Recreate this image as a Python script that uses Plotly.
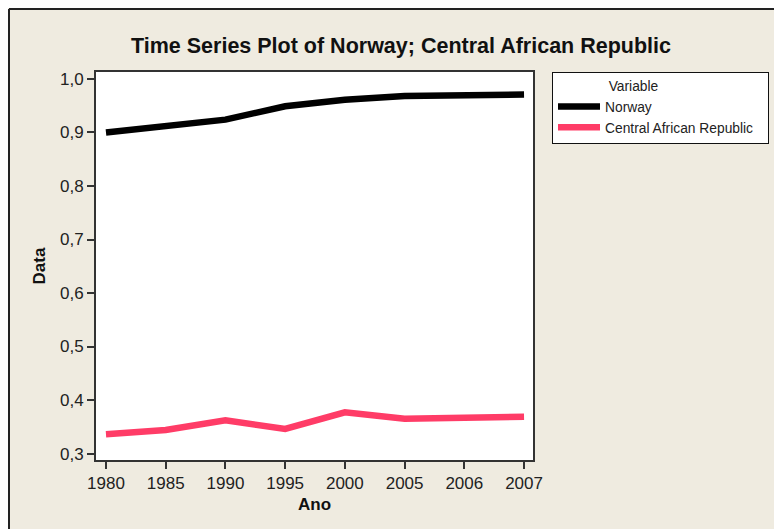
import plotly.graph_objects as go

years = ["1980", "1985", "1990", "1995", "2000", "2005", "2006", "2007"]
norway = [0.900, 0.913, 0.924, 0.949, 0.961, 0.968, 0.968, 0.971]
car = [0.336, 0.344, 0.362, 0.346, 0.377, 0.365, 0.367, 0.369]
ytick_vals = [0.3, 0.4, 0.5, 0.6, 0.7, 0.8, 0.9, 1.0]

# page has an 8px body margin; figure coordinates are offset by it
OFF = 8
W, H = 782 - OFF, 529 - OFF
L, R, T, B = 96 - OFF, 249, 72 - OFF, 69
PW, PH = W - L - R, H - T - B

def px(x):
    return (x - OFF - L) / PW

def py(y):
    return (H - B - (y - OFF)) / PH

FONT = "Liberation Sans, Arial, sans-serif"

fig = go.Figure()
fig.add_trace(go.Scatter(x=years, y=norway, mode="lines", name="Norway",
                         line=dict(color="black", width=6.5)))
fig.add_trace(go.Scatter(x=years, y=car, mode="lines", name="Central African Republic",
                         line=dict(color="#FF3C67", width=6.5)))

axis_common = dict(showline=True, linecolor="#333333", linewidth=2, mirror=True,
                   ticks="outside", ticklen=7, tickwidth=1.5, tickcolor="#333333",
                   showgrid=False, zeroline=False, automargin=False,
                   tickfont=dict(family=FONT, size=17, color="#222222"))

fig.update_xaxes(type="category", range=[-0.167, 7.15],
                 title=dict(text="<b>Ano</b>", standoff=6,
                            font=dict(family=FONT, size=17, color="#111111")),
                 **axis_common)
fig.update_yaxes(range=[0.288, 1.013], tickvals=ytick_vals, tickformat=".1f",
                 title=dict(text="<b>Data</b>", standoff=10,
                            font=dict(family=FONT, size=17, color="#111111")),
                 **axis_common)

shapes = [
    dict(type="line", xref="paper", yref="paper", x0=px(OFF + 1), x1=px(800), y0=py(OFF + 1), y1=py(OFF + 1),
         line=dict(color="#222222", width=2)),
    dict(type="line", xref="paper", yref="paper", x0=px(OFF + 1), x1=px(OFF + 1), y0=py(OFF + 1), y1=py(560),
         line=dict(color="#222222", width=2)),
]

fig.update_layout(
    template="none",
    width=W, height=H,
    margin=dict(l=L, r=R, t=T, b=B, autoexpand=False),
    paper_bgcolor="#EFEBE0",
    plot_bgcolor="white",
    separators=",.",
    font=dict(family=FONT, color="#222222"),
    title=dict(text="<b>Time Series Plot of Norway; Central African Republic</b>",
               x=(401 - OFF) / W, xref="container", xanchor="center",
               y=1 - (45 - OFF) / H, yref="container", yanchor="middle",
               font=dict(family=FONT, size=21.5, color="#111111")),
    showlegend=True,
    legend=dict(x=px(552), y=1, xanchor="left", yanchor="top",
                bgcolor="white", bordercolor="#111111", borderwidth=1,
                font=dict(family=FONT, size=13.8, color="#222222"),
                title=dict(text="\u00a0" * 14 + "Variable" + "\u00a0" * 28,
                           font=dict(family=FONT, size=13.8, color="#222222")),
                itemwidth=42, tracegroupgap=0),
    shapes=shapes,
)

fig.write_html("out.html")
